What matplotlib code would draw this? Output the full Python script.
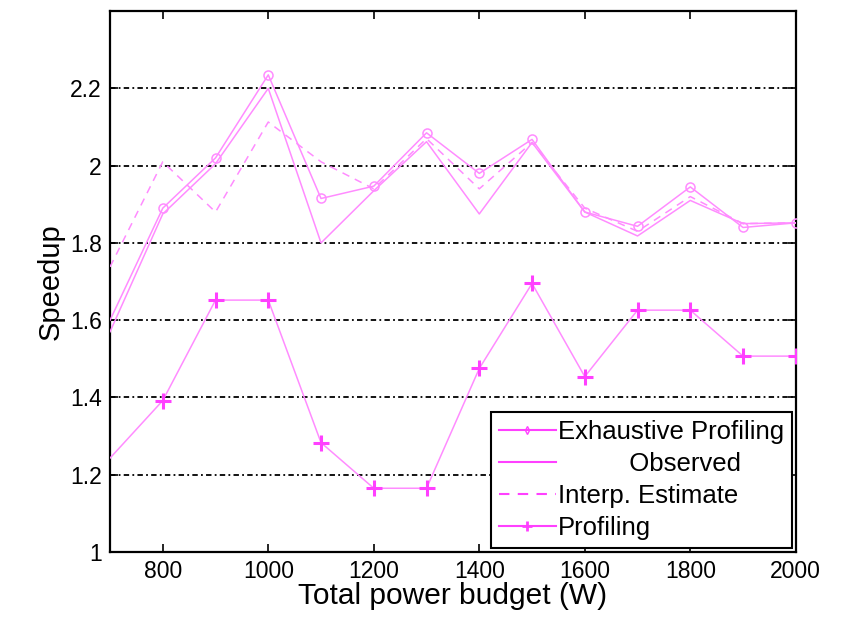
import matplotlib
matplotlib.use("Agg")
import matplotlib.pyplot as plt
from matplotlib.lines import Line2D

plt.rcParams['font.family'] = ['Liberation Sans', 'DejaVu Sans']

# Total power budget (W)
power = [700, 800, 900, 1000, 1100, 1200, 1300, 1400, 1500, 1600, 1700, 1800, 1900, 2000]

exhaustive = [1.60, 1.89, 2.02, 2.235, 1.915, 1.947, 2.085, 1.98, 2.068, 1.88, 1.843, 1.945, 1.84, 1.852]
observed = [1.57, 1.875, 2.005, 2.20, 1.80, 1.935, 2.062, 1.875, 2.06, 1.88, 1.818, 1.91, 1.85, 1.852]
interp_estimate = [1.738, 2.01, 1.88, 2.113, 2.01, 1.94, 2.07, 1.94, 2.06, 1.89, 1.83, 1.92, 1.85, 1.852]
profiling = [1.243, 1.392, 1.652, 1.652, 1.283, 1.165, 1.165, 1.475, 1.695, 1.454, 1.626, 1.626, 1.507, 1.507]

xticks = [800, 1000, 1200, 1400, 1600, 1800, 2000]
yticks = [1, 1.2, 1.4, 1.6, 1.8, 2.0, 2.2]
ytick_labels = ['1', '1.2', '1.4', '1.6', '1.8', '2', '2.2']

line_col = '#ff8cff'
mark_col = '#ff40ff'
marked = list(range(1, len(power)))

fig = plt.figure(figsize=(8.43, 6.18), dpi=100)
ax = fig.add_axes([0.1305, 0.1068, 0.8135, 0.8752])

for y in yticks[1:]:
    ax.axhline(y, color='black', lw=1.3, dashes=(3, 1.8, 1, 1.8), zorder=1)

ax.plot(power, exhaustive, color=line_col, lw=1.1, marker='o', ms=6.5,
        mfc='none', mec=line_col, mew=1.1, markevery=marked, zorder=3)
ax.plot(power, observed, color=line_col, lw=1.1, zorder=3)
ax.plot(power, interp_estimate, color=line_col, lw=1.1, dashes=(5, 4), zorder=3)
ax.plot(power, profiling, color=line_col, lw=1.1, marker='+', ms=11,
        mec=mark_col, mew=2.2, markevery=marked, zorder=3)

ax.set_xlim(700, 2000)
ax.set_ylim(1, 2.4)
ax.set_xticks(xticks)
ax.set_yticks(yticks)
ax.set_yticklabels(ytick_labels)
ax.tick_params(direction='in', length=6, width=1.2, labelsize=16.5,
               top=True, right=True, pad=6)
for s in ax.spines.values():
    s.set_linewidth(1.6)

ax.set_xlabel('Total power budget (W)', fontsize=21.5, labelpad=-1)
ax.set_ylabel('Speedup', fontsize=21, labelpad=4)

handles = [
    Line2D([], [], color='#ff40ff', lw=1.5, marker='d', ms=4, mfc='none', mec='#ff40ff'),
    Line2D([], [], color='#ff40ff', lw=1.5),
    Line2D([], [], color='#ff40ff', lw=1.5, dashes=(5, 4)),
    Line2D([], [], color='#ff40ff', lw=1.5, marker='+', ms=7, mew=2),
]
labels = ['Exhaustive Profiling', '          Observed', 'Interp. Estimate', 'Profiling']
leg = ax.legend(handles, labels, loc='lower right', fontsize=18.5, frameon=True,
                fancybox=False, edgecolor='black', framealpha=1,
                borderaxespad=0.15, handlelength=2.2, handletextpad=0.1,
                labelspacing=0.32, borderpad=0.3)
leg.get_frame().set_linewidth(1.5)

fig.savefig('out.png', dpi=100)
